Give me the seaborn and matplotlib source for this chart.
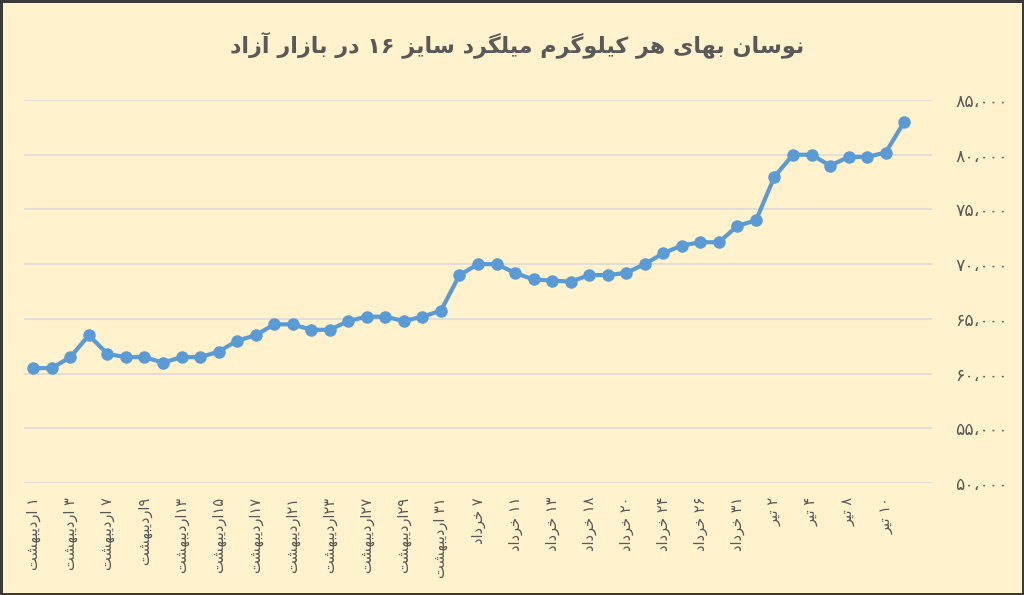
import re
import seaborn as sns
import matplotlib.pyplot as plt
import pandas as pd

# chart text
title_fa = "نوسان بهای هر کیلوگرم میلگرد سایز ۱۶ در بازار آزاد"
tick_labels = ["۱ اردیبهشت", "۳ اردیبهشت", "۷ اردیبهشت", "۹اردیبهشت",
               "۱۳اردیبهشت", "۱۵اردیبهشت", "۱۷اردیبهشت", "۲۱اردیبهشت",
               "۲۳اردیبهشت", "۲۷اردیبهشت", "۲۹اردیبهشت", "۳۱ اردیبهشت",
               "۷ خرداد", "۱۱ خرداد", "۱۳ خرداد", "۱۸ خرداد", "۲۰ خرداد",
               "۲۴ خرداد", "۲۶ خرداد", "۳۱ خرداد",
               "۲ تیر", "۴ تیر", "۸ تیر", "۱۰ تیر"]

# price per kg (rial), one value per observation
prices = [60500, 60500, 61500, 63500, 61800, 61500, 61500, 61000,
          61500, 61500, 62000, 63000, 63500, 64500, 64500, 64000,
          64000, 64800, 65200, 65200, 64800, 65200, 65750, 69000,
          70000, 70000, 69200, 68600, 68500, 68400, 69000, 69000,
          69200, 70000, 71000, 71700, 72000, 72000, 73500, 74000,
          78000, 80000, 80000, 79000, 79800, 79800, 80200, 83000]

y_ticks = [50000, 55000, 60000, 65000, 70000, 75000, 80000, 85000]

# --- minimal Arabic/Persian shaping (matplotlib has no text shaping) ---
# isolated, final, initial, medial
FORMS = {
    'ا': ('\uFE8D', '\uFE8E', None, None),
    'آ': ('\uFE81', '\uFE82', None, None),
    'ب': ('\uFE8F', '\uFE90', '\uFE91', '\uFE92'),
    'ت': ('\uFE95', '\uFE96', '\uFE97', '\uFE98'),
    'خ': ('\uFEA5', '\uFEA6', '\uFEA7', '\uFEA8'),
    'د': ('\uFEA9', '\uFEAA', None, None),
    'ر': ('\uFEAD', '\uFEAE', None, None),
    'ز': ('\uFEAF', '\uFEB0', None, None),
    'س': ('\uFEB1', '\uFEB2', '\uFEB3', '\uFEB4'),
    'ش': ('\uFEB5', '\uFEB6', '\uFEB7', '\uFEB8'),
    'ل': ('\uFEDD', '\uFEDE', '\uFEDF', '\uFEE0'),
    'م': ('\uFEE1', '\uFEE2', '\uFEE3', '\uFEE4'),
    'ن': ('\uFEE5', '\uFEE6', '\uFEE7', '\uFEE8'),
    'ه': ('\uFEE9', '\uFEEA', '\uFEEB', '\uFEEC'),
    'و': ('\uFEED', '\uFEEE', None, None),
    'ک': ('\uFB8E', '\uFB8F', '\uFB90', '\uFB91'),
    'گ': ('\uFB92', '\uFB93', '\uFB94', '\uFB95'),
    'ی': ('\uFBFC', '\uFBFD', '\uFBFE', '\uFBFF'),
}


def fa(text):
    out = []
    for i, ch in enumerate(text):
        if ch not in FORMS:
            out.append(ch)
            continue
        iso, fin, ini, med = FORMS[ch]
        prev = text[i - 1] if i > 0 else ''
        nxt = text[i + 1] if i + 1 < len(text) else ''
        jp = prev in FORMS and FORMS[prev][2] is not None
        jn = ini is not None and nxt in FORMS
        if jp and jn:
            out.append(med)
        elif jp:
            out.append(fin)
        elif jn:
            out.append(ini)
        else:
            out.append(iso)
    s = ''.join(out)[::-1]
    # numbers stay left-to-right
    return re.sub(r'[۰-۹،]+', lambda m: m.group(0)[::-1], s)


def fa_num(v):
    s = f"{int(v):,}".replace(',', '،')
    return s.translate(str.maketrans('0123456789', '۰۱۲۳۴۵۶۷۸۹'))


df = pd.DataFrame({'idx': range(len(prices)), 'price': prices})

sns.set_theme(style="white")
plt.rcParams['font.family'] = ['DejaVu Sans']

bg = '#FFF2CC'
fig = plt.figure(figsize=(10.24, 5.95), dpi=100, facecolor=bg)
fig.patch.set_edgecolor('#3A3A3A')
fig.patch.set_linewidth(2.5)
ax = fig.add_axes([24 / 1024, 1 - 483 / 595, (932 - 24) / 1024, (483 - 100) / 595])
ax.set_facecolor(bg)

sns.lineplot(data=df, x='idx', y='price', ax=ax, color='#5B9BD5', linewidth=3,
             marker='o', markersize=9, markeredgewidth=0, zorder=3)

ax.set_xlim(-0.5, len(prices) + 0.5)
ax.set_ylim(50000, 85000)
ax.set_yticks(y_ticks)
ax.set_yticklabels([fa_num(v) for v in y_ticks], color='#595959', fontsize=12.5)
ax.yaxis.tick_right()
ax.tick_params(axis='y', length=0, pad=17)

ax.set_xticks(range(0, len(prices), 2))
ax.set_xticklabels([fa(t) for t in tick_labels], rotation=90, color='#595959',
                   fontsize=10.5)
ax.tick_params(axis='x', length=0, pad=10)

ax.grid(axis='y', color='#DADADA', linewidth=1.2)
ax.grid(axis='x', visible=False)
for sp in ax.spines.values():
    sp.set_visible(False)
ax.set_xlabel('')
ax.set_ylabel('')

fig.text(0.505, 1 - 45 / 595, fa(title_fa), ha='center', va='center',
         fontsize=16, fontweight='bold', color='#595959')

fig.savefig('out.png', dpi=100, facecolor=bg, edgecolor=fig.get_edgecolor())
